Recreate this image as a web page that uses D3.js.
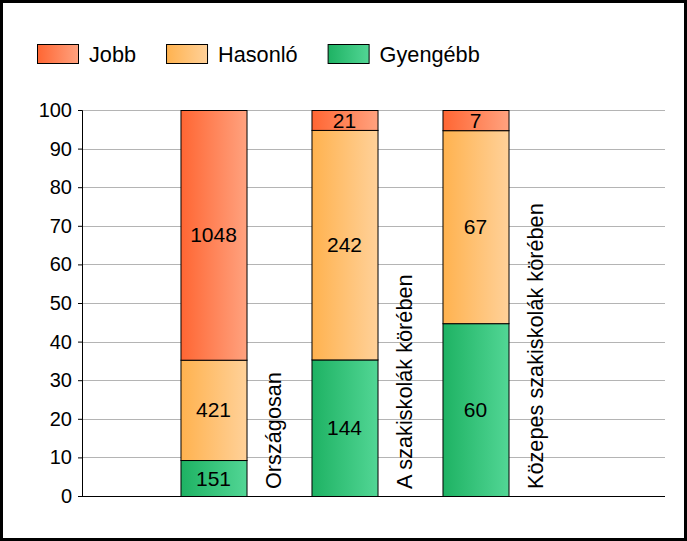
<!DOCTYPE html>
<html>
<head>
<meta charset="utf-8">
<script src="https://cdn.jsdelivr.net/npm/d3@7"></script>
<style>
  body { margin: 0; background: #fff; }
  svg text { font-family: "Liberation Sans", Arial, sans-serif; font-size: 21px; fill: #000; }
  svg text.label { font-size: 21.7px; }
</style>
</head>
<body>
<div id="chart"></div>
<script>
// categories and counts per group (bottom to top: Gyengébb, Hasonló, Jobb)
var categories = ["Országosan", "A szakiskolák körében", "Közepes szakiskolák körében"];
var gyengebb = [151, 144, 60];
var hasonlo = [421, 242, 67];
var jobb = [1048, 21, 7];
var seriesNames = ["Jobb", "Hasonló", "Gyengébb"];
var yTicks = [0, 10, 20, 30, 40, 50, 60, 70, 80, 90, 100];

var width = 687, height = 541;
var colors = {
  "Jobb": ["#ff6633", "#ffa27f"],
  "Hasonló": ["#ffb24f", "#ffd199"],
  "Gyengébb": ["#1eb263", "#52d695"]
};

var svg = d3.select("#chart").append("svg")
  .attr("width", width)
  .attr("height", height);

var defs = svg.append("defs");
seriesNames.forEach(function(name, i) {
  var g = defs.append("linearGradient")
    .attr("id", "grad" + i)
    .attr("x1", "0%").attr("x2", "100%")
    .attr("y1", "0%").attr("y2", "0%");
  g.append("stop").attr("offset", "0%").attr("stop-color", colors[name][0]);
  g.append("stop").attr("offset", "100%").attr("stop-color", colors[name][1]);
});

//Build the stacked percentage table
var table = categories.map(function(c, i) {
  var total = gyengebb[i] + hasonlo[i] + jobb[i];
  return {
    cat: c,
    "Gyengébb": gyengebb[i] / total * 100,
    "Hasonló": hasonlo[i] / total * 100,
    "Jobb": jobb[i] / total * 100,
    counts: { "Gyengébb": gyengebb[i], "Hasonló": hasonlo[i], "Jobb": jobb[i] }
  };
});
var stack = d3.stack().keys(["Gyengébb", "Hasonló", "Jobb"]);
var layers = stack(table);

var plotLeft = 82, plotRight = 665;
var y = d3.scaleLinear().domain([0, 100]).range([496, 110]);
var x = d3.scaleBand().domain(categories)
  .range([148, 541])
  .paddingInner(0.496)
  .paddingOuter(0.248);

//Gridlines
svg.append("g")
  .selectAll("line")
  .data(yTicks.slice(1))
  .enter().append("line")
  .attr("x1", plotLeft).attr("x2", plotRight)
  .attr("y1", function(d) { return Math.round(y(d)) + 0.5; })
  .attr("y2", function(d) { return Math.round(y(d)) + 0.5; })
  .attr("stroke", "#b4b4b4")
  .attr("stroke-width", 1);

//Y axis
var yAxis = svg.append("g")
  .attr("transform", "translate(" + plotLeft + ",0)")
  .call(d3.axisLeft(y).tickValues(yTicks).tickSize(4).tickPadding(6));
yAxis.select(".domain").attr("stroke", "#000");
yAxis.selectAll(".tick line").attr("stroke", "#000");
yAxis.selectAll("text").style("font-size", "20px").attr("fill", "#000")
  .style("font-family", "'Liberation Sans', Arial, sans-serif");

//X axis line
svg.append("line")
  .attr("x1", plotLeft).attr("x2", plotRight)
  .attr("y1", 496.5).attr("y2", 496.5)
  .attr("stroke", "#000").attr("stroke-width", 1);

//Bars
var keyIndex = { "Jobb": 0, "Hasonló": 1, "Gyengébb": 2 };
layers.forEach(function(layer) {
  var g = svg.append("g");
  g.selectAll("rect")
    .data(layer)
    .enter().append("rect")
    .attr("x", function(d) { return x(d.data.cat) + 0.5; })
    .attr("y", function(d) { return y(d[1]) + 0.5; })
    .attr("width", x.bandwidth())
    .attr("height", function(d) { return y(d[0]) - y(d[1]); })
    .attr("fill", "url(#grad" + keyIndex[layer.key] + ")")
    .attr("stroke", "#000")
    .attr("stroke-width", 1);

  g.selectAll("text")
    .data(layer)
    .enter().append("text")
    .attr("x", function(d) { return x(d.data.cat) + x.bandwidth() / 2; })
    .attr("y", function(d) { return (y(d[0]) + y(d[1])) / 2; })
    .attr("text-anchor", "middle")
    .attr("dy", "0.36em")
    .text(function(d) { return d.data.counts[layer.key]; });
});

//Category labels, rotated
svg.append("g")
  .selectAll("text")
  .data(categories)
  .enter().append("text")
  .attr("class", "label")
  .attr("transform", function(d) {
    return "translate(" + (x(d) + x.bandwidth() + 34) + ",489) rotate(-90)";
  })
  .attr("text-anchor", "start")
  .text(function(d) { return d; });

//Legend
var legend = svg.append("g");
var lx = 37;
seriesNames.forEach(function(name, i) {
  legend.append("rect")
    .attr("x", lx + 0.5).attr("y", 44.5)
    .attr("width", 41).attr("height", 19)
    .attr("fill", "url(#grad" + i + ")")
    .attr("stroke", "#000");
  var t = legend.append("text")
    .attr("class", "label")
    .attr("x", lx + 52).attr("y", 62)
    .text(name);
  lx = lx + 52 + t.node().getComputedTextLength() + 30;
});

//Frame
svg.append("rect")
  .attr("x", 1.5).attr("y", 1.5)
  .attr("width", width - 3).attr("height", height - 3)
  .attr("fill", "none")
  .attr("stroke", "#000")
  .attr("stroke-width", 3);
</script>
</body>
</html>
